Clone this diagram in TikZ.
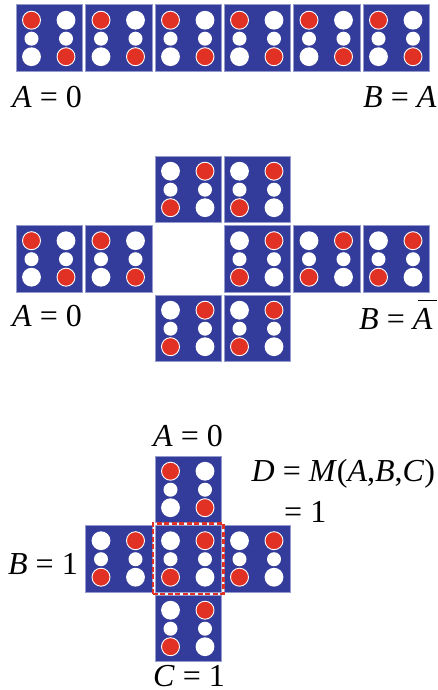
\documentclass[tikz,border=0pt]{standalone}
\usepackage{fontspec}
\setmainfont{Liberation Serif}
\definecolor{tileblue}{RGB}{52,60,155}
\definecolor{tileedge}{RGB}{150,155,205}
\definecolor{dotred}{RGB}{225,48,36}
\tikzset{
  tilebox/.style={draw=tileedge,line width=.8pt,fill=tileblue,minimum width=66.5pt,minimum height=66.5pt,inner sep=0pt,anchor=north west},
  bigwhite/.style={circle,fill=white,minimum size=18.8pt,inner sep=0pt},
  smallwhite/.style={circle,fill=white,minimum size=14pt,inner sep=0pt},
  bigred/.style={circle,fill=dotred,draw=white,line width=.9pt,minimum size=18pt,inner sep=0pt},
  lbl/.style={inner sep=0pt,anchor=base west,font=\fontsize{32}{35}\selectfont},
  markbox/.style={draw=dotred,line width=2.2pt,dash pattern=on 5pt off 2.5pt,minimum width=70.5pt,minimum height=70.5pt,inner sep=0pt}
}
\newcommand{\tileA}[3]{% name, x, y: upper left and lower right dots red
  \node[tilebox] (#1) at (#2,#3) {};
  \node[bigred] (#1tl) at ([xshift=16pt,yshift=-15.7pt]#1.north west) {};
  \node[bigwhite] (#1tr) at ([xshift=50.5pt,yshift=-15.7pt]#1.north west) {};
  \node[smallwhite] (#1ml) at ([xshift=16pt,yshift=-34.2pt]#1.north west) {};
  \node[smallwhite] (#1mr) at ([xshift=50.5pt,yshift=-34.2pt]#1.north west) {};
  \node[bigwhite] (#1bl) at ([xshift=16pt,yshift=-52.2pt]#1.north west) {};
  \node[bigred] (#1br) at ([xshift=50.5pt,yshift=-52.2pt]#1.north west) {};
}
\newcommand{\tileB}[3]{% name, x, y: upper right and lower left dots red
  \node[tilebox] (#1) at (#2,#3) {};
  \node[bigwhite] (#1tl) at ([xshift=16pt,yshift=-15.7pt]#1.north west) {};
  \node[bigred] (#1tr) at ([xshift=50.5pt,yshift=-15.7pt]#1.north west) {};
  \node[smallwhite] (#1ml) at ([xshift=16pt,yshift=-34.2pt]#1.north west) {};
  \node[smallwhite] (#1mr) at ([xshift=50.5pt,yshift=-34.2pt]#1.north west) {};
  \node[bigred] (#1bl) at ([xshift=16pt,yshift=-52.2pt]#1.north west) {};
  \node[bigwhite] (#1br) at ([xshift=50.5pt,yshift=-52.2pt]#1.north west) {};
}
\begin{document}
\begin{tikzpicture}[x=1pt,y=-1pt]
\useasboundingbox (0,0) rectangle (438,690);
% top row
\tileA{a}{15.5}{4.5}
\tileA{b}{85}{4.5}
\tileA{c}{154.5}{4.5}
\tileA{d}{223.5}{4.5}
\tileA{e}{293}{4.5}
\tileA{f}{362.5}{4.5}
\node[lbl] (t1) at (12,107.5) {\textit{A} = 0};
\node[lbl] (t2) at (363,107.5) {\textit{B} = \textit{A}};
% middle cross
\tileB{g}{154.5}{155.5}
\tileB{h}{223.5}{155.5}
\tileA{i}{15.5}{225}
\tileA{j}{85}{225}
\tileB{k}{223.5}{225}
\tileB{l}{293}{225}
\tileB{m}{362.5}{225}
\tileB{n}{154.5}{294.5}
\tileB{o}{223.5}{294.5}
\node[lbl] (t3) at (12,326) {\textit{A} = 0};
\node[lbl] (t4) at (359,329) {\textit{B} = \textit{A}};
\coordinate (barl) at (418,300);
\coordinate (barr) at (437,300);
\draw[line width=.9pt] (barl) -- (barr);
% bottom cross
\tileA{p}{154.5}{455.5}
\tileB{q}{85}{525}
\tileB{r}{154.5}{525}
\tileB{s}{223.5}{525}
\tileB{u}{154.5}{594.5}
\node[markbox] (mk) at (r) {};
\node[lbl] (t5) at (153,446) {\textit{A} = 0};
\node[lbl] (t6) at (251.5,481) {\textit{D} = \textit{M}(\textit{A},\textit{B},\textit{C})};
\node[lbl] (t7) at (284,522) {= 1};
\node[lbl] (t8) at (8,574) {\textit{B} = 1};
\node[lbl] (t9) at (153,686.5) {\textit{C} = 1};
\end{tikzpicture}
\end{document}
